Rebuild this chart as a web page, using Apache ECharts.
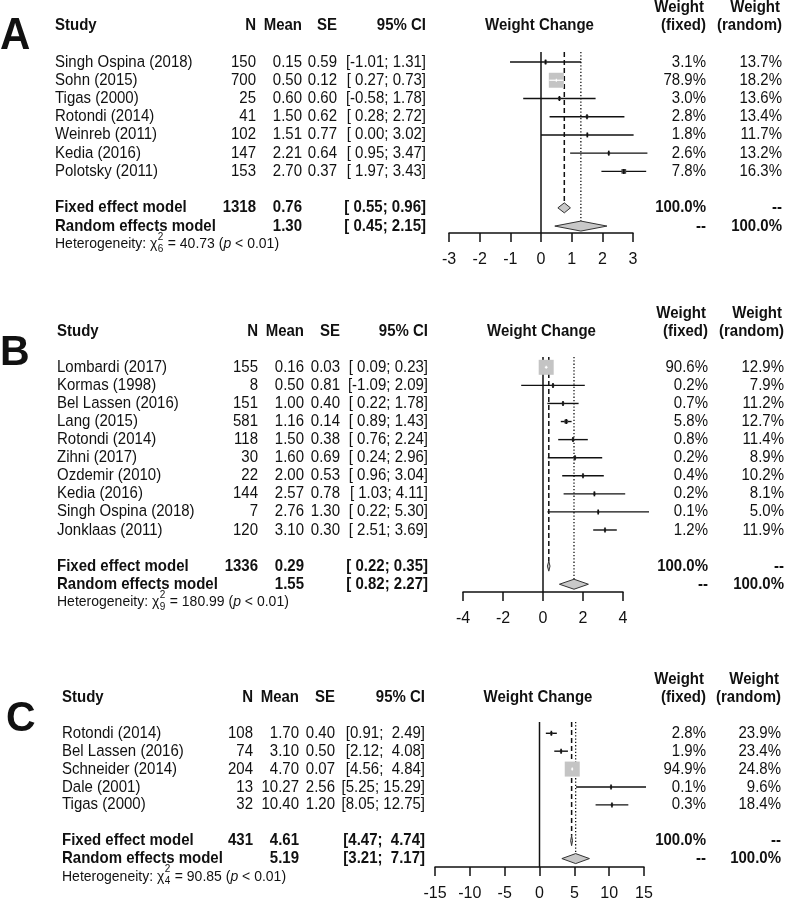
<!DOCTYPE html>
<html><head><meta charset="utf-8">
<script src="https://cdn.jsdelivr.net/npm/echarts@6/dist/echarts.min.js"></script>
<style>html,body{margin:0;padding:0;background:#fff}#c{width:787px;height:902px}</style>
</head><body><div id="c"></div>
<script>
// ---------- DATA ----------
// Panel A
const studiesA = ["Singh Ospina (2018)","Sohn (2015)","Tigas (2000)","Rotondi (2014)","Weinreb (2011)","Kedia (2016)","Polotsky (2011)"];
const nA = [150,700,25,41,102,147,153];
const meanA = [0.15,0.50,0.60,1.50,1.51,2.21,2.70];
const seA = [0.59,0.12,0.60,0.62,0.77,0.64,0.37];
const lowA = [-1.01,0.27,-0.58,0.28,0.00,0.95,1.97];
const highA = [1.31,0.73,1.78,2.72,3.02,3.47,3.43];
const wFixedA = [3.1,78.9,3.0,2.8,1.8,2.6,7.8];
const wRandomA = [13.7,18.2,13.6,13.4,11.7,13.2,16.3];
const fixedA = [1318,0.76,0.55,0.96];   // N, est, low, high
const randomA = [1.30,0.45,2.15];       // est, low, high
const hetA = [6,"40.73","< 0.01"];
const ticksA = [-3,-2,-1,0,1,2,3];

// Panel B
const studiesB = ["Lombardi (2017)","Kormas (1998)","Bel Lassen (2016)","Lang (2015)","Rotondi (2014)","Zihni (2017)","Ozdemir (2010)","Kedia (2016)","Singh Ospina (2018)","Jonklaas (2011)"];
const nB = [155,8,151,581,118,30,22,144,7,120];
const meanB = [0.16,0.50,1.00,1.16,1.50,1.60,2.00,2.57,2.76,3.10];
const seB = [0.03,0.81,0.40,0.14,0.38,0.69,0.53,0.78,1.30,0.30];
const lowB = [0.09,-1.09,0.22,0.89,0.76,0.24,0.96,1.03,0.22,2.51];
const highB = [0.23,2.09,1.78,1.43,2.24,2.96,3.04,4.11,5.30,3.69];
const wFixedB = [90.6,0.2,0.7,5.8,0.8,0.2,0.4,0.2,0.1,1.2];
const wRandomB = [12.9,7.9,11.2,12.7,11.4,8.9,10.2,8.1,5.0,11.9];
const fixedB = [1336,0.29,0.22,0.35];
const randomB = [1.55,0.82,2.27];
const hetB = [9,"180.99","< 0.01"];
const ticksB = [-4,-2,0,2,4];

// Panel C
const studiesC = ["Rotondi (2014)","Bel Lassen (2016)","Schneider (2014)","Dale (2001)","Tigas (2000)"];
const nC = [108,74,204,13,32];
const meanC = [1.70,3.10,4.70,10.27,10.40];
const seC = [0.40,0.50,0.07,2.56,1.20];
const lowC = [0.91,2.12,4.56,5.25,8.05];
const highC = [2.49,4.08,4.84,15.29,12.75];
const wFixedC = [2.8,1.9,94.9,0.1,0.3];
const wRandomC = [23.9,23.4,24.8,9.6,18.4];
const fixedC = [431,4.61,4.47,4.74];
const randomC = [5.19,3.21,7.17];
const hetC = [4,"90.85","< 0.01"];
const ticksC = [-15,-10,-5,0,5,10,15];

const panels = [
  {letter:"A", studies:studiesA, n:nA, mean:meanA, se:seA, low:lowA, high:highA, wf:wFixedA, wr:wRandomA, fixed:fixedA, random:randomA, het:hetA, ticks:ticksA},
  {letter:"B", studies:studiesB, n:nB, mean:meanB, se:seB, low:lowB, high:highB, wf:wFixedB, wr:wRandomB, fixed:fixedB, random:randomB, het:hetB, ticks:ticksB},
  {letter:"C", studies:studiesC, n:nC, mean:meanC, se:seC, low:lowC, high:highC, wf:wFixedC, wr:wRandomC, fixed:fixedC, random:randomC, het:hetC, ticks:ticksC}
];

// ---------- LAYOUT ----------
const layouts = [
  {grid:{left:449,top:52,width:184,height:181}, yMin:-0.55, yMax:9.38,
   cols:{study:55,n:256,mean:302,se:337,ci:426,wf:706,wr:782}, letter:{x:0,y:37,size:42}},
  {grid:{left:463,top:357,width:160,height:235}, yMin:-0.57, yMax:12.43,
   cols:{study:57,n:258,mean:304,se:340,ci:428,wf:708,wr:784}, letter:{x:0,y:353,size:41}},
  {grid:{left:435,top:722,width:209,height:145}, yMin:-0.63, yMax:7.47,
   cols:{study:62,n:253,mean:299,se:335,ci:425,wf:706,wr:781}, letter:{x:6,y:719,size:41}}
];

const FONT = '"Liberation Sans", Arial, Helvetica, sans-serif';
const INK = '#111';
const SQ = 15;
const SY = 1.1;   // vertical stretch of table text
const mctx = document.createElement('canvas').getContext('2d');
function tw(text, size, weight, style){ mctx.font = (style||'normal')+' '+(weight||'normal')+' '+size+'px '+FONT; return mctx.measureText(text).width; }

function pad(s, len){ while (s.length < len) s = ' ' + s; return s; }
function ciStrings(P){
  const lows = P.low.concat([P.fixed[2], P.random[1]]).map(v=>v.toFixed(2));
  const highs = P.high.concat([P.fixed[3], P.random[2]]).map(v=>v.toFixed(2));
  const lw = Math.max(...lows.map(s=>s.length)), hw = Math.max(...highs.map(s=>s.length));
  return lows.map((l,i)=>'[' + pad(l,lw) + '; ' + pad(highs[i],hw) + ']');
}

function textRender(pi){
  return function(params, api){
    const P = panels[pi], L = layouts[pi], C = L.cols;
    const x0 = P.ticks[0];
    const ry = r => api.coord([x0, r])[1];
    const kids = [];
    const T = (text,x,y,align,bold,size,italic,sy) => kids.push({type:'text',
      x:x, y:y, scaleY:(sy||SY),
      style:{
      text:String(text), x:0, y:0, align:align, verticalAlign:'middle', fill:INK,
      fontSize:size||15, fontFamily:FONT, fontWeight:bold?'bold':'normal', fontStyle:italic?'italic':'normal'}});
    const k = P.studies.length;
    const cis = ciStrings(P);
    // letter
    T(P.letter, L.letter.x, L.letter.y, 'left', true, L.letter.size, false, 1.05);
    // headers
    const hy = ry(-2), hy2 = ry(-3);
    T('Study', C.study, hy, 'left', true);
    T('N', C.n, hy, 'right', true);
    T('Mean', C.mean, hy, 'right', true);
    T('SE', C.se, hy, 'right', true);
    T('95% CI', C.ci, hy, 'right', true);
    const mid = api.coord([(P.ticks[0]+P.ticks[P.ticks.length-1])/2, -2])[0];
    T('Weight Change', mid - 1.5, hy, 'center', true);
    T('Weight', C.wf - 2, hy2, 'right', true);
    T('(fixed)', C.wf, hy, 'right', true);
    T('Weight', C.wr - 2, hy2, 'right', true);
    T('(random)', C.wr, hy, 'right', true);
    // study rows
    for (let i=0;i<k;i++){
      const y = ry(i);
      T(P.studies[i], C.study, y, 'left');
      T(P.n[i], C.n, y, 'right');
      T(P.mean[i].toFixed(2), C.mean, y, 'right');
      T(P.se[i].toFixed(2), C.se, y, 'right');
      T(cis[i], C.ci, y, 'right');
      T(P.wf[i].toFixed(1)+'%', C.wf, y, 'right');
      T(P.wr[i].toFixed(1)+'%', C.wr, y, 'right');
    }
    // summary rows
    const fy = ry(k+1), ry2 = ry(k+2);
    T('Fixed effect model', C.study, fy, 'left', true);
    T(P.fixed[0], C.n, fy, 'right', true);
    T(P.fixed[1].toFixed(2), C.mean, fy, 'right', true);
    T(cis[k], C.ci, fy, 'right', true);
    T('100.0%', C.wf, fy, 'right', true);
    T('--', C.wr, fy, 'right', true);
    T('Random effects model', C.study, ry2, 'left', true);
    T(P.random[0].toFixed(2), C.mean, ry2, 'right', true);
    T(cis[k+1], C.ci, ry2, 'right', true);
    T('--', C.wf, ry2, 'right', true);
    T('100.0%', C.wr, ry2, 'right', true);
    // heterogeneity
    const hs = 14, ss = 10;
    const hY = ry(k+3);
    let x = C.study;
    const s1 = 'Heterogeneity: \u03C7';
    T(s1, x, hY, 'left', false, hs, false, 1.05); x += tw(s1, hs);
    T('2', x+0.5, hY-7, 'left', false, ss, false, 1);
    T(P.het[0], x+0.5, hY+5, 'left', false, ss, false, 1);
    x += Math.max(tw('2',ss), tw(String(P.het[0]),ss)) + 1;
    const s2 = ' = ' + P.het[1] + ' (';
    T(s2, x, hY, 'left', false, hs, false, 1.05); x += tw(s2, hs);
    T('p', x, hY, 'left', false, hs, true, 1.05); x += tw('p', hs, 'normal', 'italic');
    T(' ' + P.het[2] + ')', x, hY, 'left', false, hs, false, 1.05);
    return {type:'group', children:kids};
  };
}

function refRender(pi){
  return function(params, api){
    const P = panels[pi], L = layouts[pi];
    const k = P.studies.length;
    const top = api.coord([0, L.yMin])[1];
    const bot = api.coord([0, L.yMax])[1];
    const x0 = api.coord([0, 0])[0];
    const xf = api.coord([P.fixed[1], 0])[0];
    const xr = api.coord([P.random[0], 0])[0];
    const fyTop = api.coord([0, k+1])[1] - 5;
    const ryTop = api.coord([0, k+2])[1] - 5;
    return {type:'group', children:[
      {type:'line', shape:{x1:x0,y1:top,x2:x0,y2:bot}, style:{stroke:INK, lineWidth:1.5}},
      {type:'line', shape:{x1:xf,y1:top,x2:xf,y2:fyTop}, style:{stroke:INK, lineWidth:1.5, lineDash:[5,3]}},
      {type:'line', shape:{x1:xr,y1:top,x2:xr,y2:ryTop}, style:{stroke:INK, lineWidth:1.3, lineDash:[1.3,2]}}
    ]};
  };
}

function studyRender(pi){
  return function(params, api){
    const P = panels[pi];
    const i = params.dataIndex;
    const maxW = Math.max(...P.wf);
    const y = api.coord([0, i])[1];
    const xl = api.coord([P.low[i], i])[0];
    const xh = api.coord([P.high[i], i])[0];
    const xm = api.coord([P.mean[i], i])[0];
    const side = Math.max(2.5, SQ * Math.sqrt(P.wf[i]/maxW));
    const big = side > 7;
    const kids = [
      {type:'line', shape:{x1:xl,y1:y,x2:xh,y2:y}, style:{stroke:INK, lineWidth:1.4}},
      {type:'rect', shape:{x:xm-side/2, y:y-side/2, width:side, height:side}, style:{fill: big ? '#c4c4c4' : '#444'}}
    ];
    if (big) {
      const a = Math.max(xl, xm-side/2), b = Math.min(xh, xm+side/2);
      kids.push({type:'line', shape:{x1:a,y1:y,x2:b,y2:y}, style:{stroke:'#fff', lineWidth:1.2}});
      kids.push({type:'line', shape:{x1:xm,y1:y-1.5,x2:xm,y2:y+1.5}, style:{stroke:'#fff', lineWidth:1.2}});
    } else {
      kids.push({type:'line', shape:{x1:xm,y1:y-2.5,x2:xm,y2:y+2.5}, style:{stroke:INK, lineWidth:1.6}});
    }
    return {type:'group', children:kids};
  };
}

function diamondRender(pi){
  return function(params, api){
    const P = panels[pi];
    const k = P.studies.length;
    const d = params.dataIndex === 0 ? [P.fixed[1],P.fixed[2],P.fixed[3], k+1] : [P.random[0],P.random[1],P.random[2], k+2];
    const y = api.coord([0, d[3]])[1];
    const xm = api.coord([d[0], 0])[0], xl = api.coord([d[1], 0])[0], xh = api.coord([d[2], 0])[0];
    return {type:'polygon', shape:{points:[[xl,y],[xm,y-5],[xh,y],[xm,y+5]]},
      style:{fill:'#c8c8c8', stroke:'#333', lineWidth:1}};
  };
}

const grids = [], xAxes = [], yAxes = [], series = [];
panels.forEach((P, pi) => {
  const L = layouts[pi];
  grids.push(Object.assign({containLabel:false, outerBoundsMode:'none'}, L.grid));
  xAxes.push({gridIndex:pi, type:'value', min:P.ticks[0], max:P.ticks[P.ticks.length-1],
    interval:P.ticks[1]-P.ticks[0],
    axisLine:{show:true, onZero:false, lineStyle:{color:INK, width:1.5}},
    axisTick:{show:true, length:9, lineStyle:{color:INK, width:1.5}},
    axisLabel:{show:true, fontSize:16, color:INK, fontFamily:FONT, margin:19},
    splitLine:{show:false}});
  yAxes.push({gridIndex:pi, type:'value', inverse:true, min:L.yMin, max:L.yMax, show:false,
    splitLine:{show:false}});
  series.push({type:'custom', xAxisIndex:pi, yAxisIndex:pi, clip:false, silent:true,
    renderItem:refRender(pi), data:[[0,0]], encode:{x:0,y:1}, z:1});
  series.push({type:'custom', xAxisIndex:pi, yAxisIndex:pi, clip:false, silent:true,
    renderItem:studyRender(pi), data:P.mean.map((m,i)=>[m,i]), encode:{x:0,y:1}, z:2});
  series.push({type:'custom', xAxisIndex:pi, yAxisIndex:pi, clip:false, silent:true,
    renderItem:diamondRender(pi), data:[[P.fixed[1], P.studies.length+1],[P.random[0], P.studies.length+2]], encode:{x:0,y:1}, z:3});
  series.push({type:'custom', xAxisIndex:pi, yAxisIndex:pi, clip:false, silent:true,
    renderItem:textRender(pi), data:[[0,0]], encode:{x:0,y:1}, z:4});
});

const chart = echarts.init(document.getElementById('c'), null, {renderer:'canvas'});
chart.setOption({
  animation:false,
  backgroundColor:'#fff',
  textStyle:{fontFamily:FONT},
  grid:grids, xAxis:xAxes, yAxis:yAxes, series:series
});
</script>
</body></html>
